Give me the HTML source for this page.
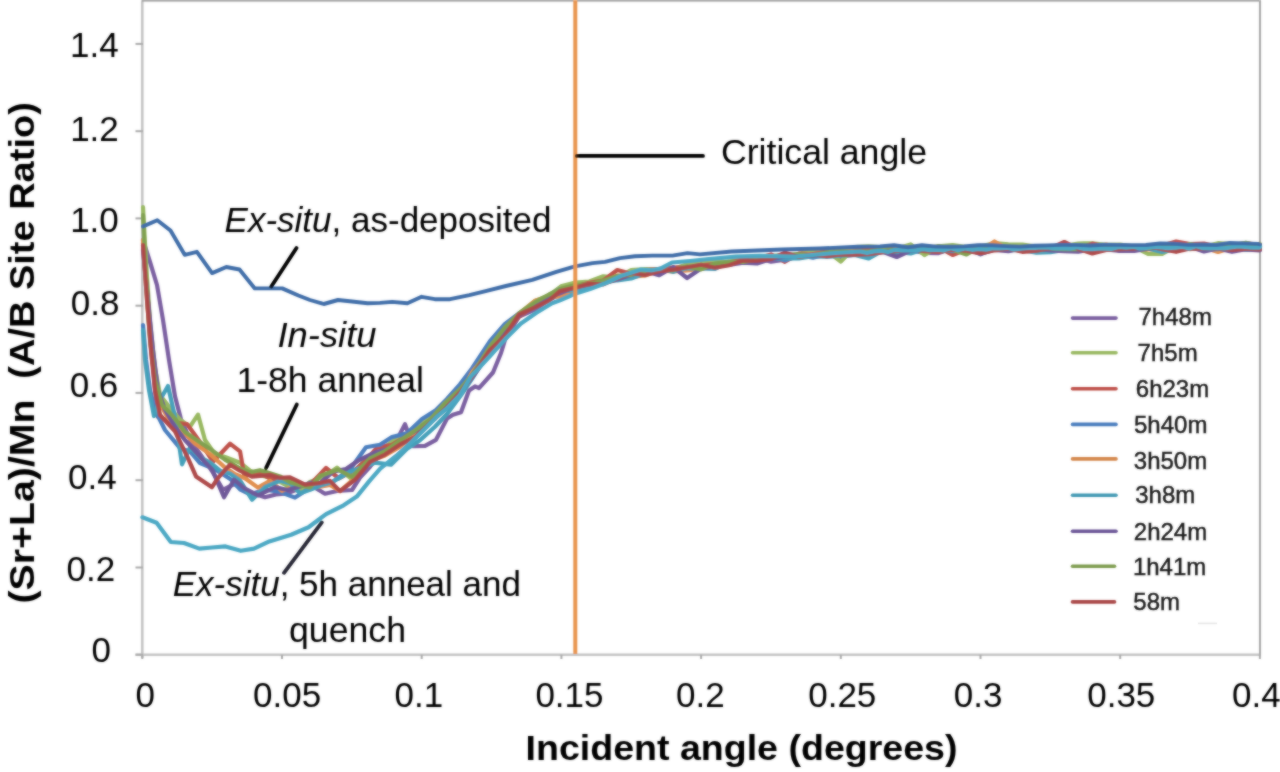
<!DOCTYPE html>
<html><head><meta charset="utf-8"><style>
html,body{margin:0;padding:0;background:#fff;width:1280px;height:772px;overflow:hidden}
svg{display:block}
</style></head><body>
<svg width="1280" height="772" viewBox="0 0 1280 772">
<defs><filter id="bl" x="0" y="0" width="1280" height="772" filterUnits="userSpaceOnUse"><feGaussianBlur in="SourceGraphic" stdDeviation="1" result="b"/><feComposite in="b" in2="SourceGraphic" operator="arithmetic" k1="0" k2="0.6" k3="0.4" k4="0"/></filter></defs>
<rect width="1280" height="772" fill="#fff"/>
<g filter="url(#bl)">
<g stroke="#c4c4c4" stroke-width="2.6" fill="none">
<line x1="142.3" y1="0" x2="142.3" y2="658"/>
<line x1="135.5" y1="654.7" x2="1261" y2="654.7"/>
</g>
<g stroke="#a8a8a8" stroke-width="2" fill="none">
<line x1="135.5" y1="43.9" x2="143" y2="43.9"/><line x1="135.5" y1="131.2" x2="143" y2="131.2"/><line x1="135.5" y1="218.4" x2="143" y2="218.4"/><line x1="135.5" y1="305.7" x2="143" y2="305.7"/><line x1="135.5" y1="392.9" x2="143" y2="392.9"/><line x1="135.5" y1="480.2" x2="143" y2="480.2"/><line x1="135.5" y1="567.5" x2="143" y2="567.5"/><line x1="135.5" y1="654.7" x2="143" y2="654.7"/><line x1="142.3" y1="654.7" x2="142.3" y2="659"/><line x1="282.0" y1="654.7" x2="282.0" y2="659"/><line x1="421.7" y1="654.7" x2="421.7" y2="659"/><line x1="561.4" y1="654.7" x2="561.4" y2="659"/><line x1="701.1" y1="654.7" x2="701.1" y2="659"/><line x1="840.8" y1="654.7" x2="840.8" y2="659"/><line x1="980.5" y1="654.7" x2="980.5" y2="659"/><line x1="1120.2" y1="654.7" x2="1120.2" y2="659"/><line x1="1259.9" y1="654.7" x2="1259.9" y2="659"/>
</g>
<line x1="142" y1="0.8" x2="1261" y2="0.8" stroke="#909090" stroke-width="1.6"/>
<line x1="1260" y1="0" x2="1260" y2="655" stroke="#a6a6a6" stroke-width="2"/>
<g fill="none" stroke-width="4.2" stroke-linejoin="round" stroke-linecap="round">
<polyline points="143.0,240.0 150.0,262.0 157.0,285.0 163.0,320.0 169.0,360.0 175.0,396.3 181.0,419.4 190.0,439.7 200.0,453.9 212.0,471.0 223.0,489.8 234.0,484.1 250.0,492.2 265.0,497.2 276.0,494.5 287.0,493.3 298.0,489.3 309.0,484.2 325.0,493.7 337.0,491.0 352.0,490.0 360.0,477.5 370.0,466.7 380.0,454.2 391.0,451.2 405.0,424.1 413.0,446.2 425.0,445.8 436.0,439.8 447.0,418.6 453.0,414.7 461.0,412.3 469.0,390.5 475.0,386.4 479.0,388.1 493.0,372.5 501.0,353.0 505.0,339.8 519.0,316.5 535.0,309.5 549.0,300.0 560.0,294.3 575.4,290.7 589.3,284.2 603.3,279.6 617.3,279.9 631.2,275.5 645.2,272.4 659.2,268.7 673.2,271.4 687.1,266.5 701.1,267.3 715.1,265.5 729.0,263.5 743.0,261.5 757.0,257.7 771.0,261.7 784.9,259.7 798.9,256.6 812.9,255.4 826.8,255.1 840.8,256.8 854.8,254.6 868.7,252.8 882.7,251.9 896.7,250.8 910.7,250.4 924.6,252.9 938.6,253.1 952.6,248.1 966.5,248.8 980.5,251.0 994.5,249.6 1008.4,249.1 1022.4,246.5 1036.4,246.8 1050.4,248.6 1064.3,250.8 1078.3,248.7 1092.3,248.3 1106.2,246.3 1120.2,250.9 1134.2,247.6 1148.1,247.0 1162.1,244.9 1176.1,248.2 1190.0,246.4 1204.0,248.3 1218.0,247.9 1232.0,247.3 1245.9,246.8 1259.9,247.8" stroke="#7A5FA0"/>
<polyline points="143.0,207.0 146.0,262.0 150.0,322.0 155.0,368.0 160.0,395.0 170.0,408.0 180.0,419.6 190.0,426.7 198.0,414.6 205.0,440.0 215.0,454.1 225.0,456.9 240.0,462.7 250.0,470.6 257.0,474.2 275.0,479.2 290.0,487.2 300.0,490.3 310.0,481.9 325.0,476.1 337.0,467.6 350.0,477.7 365.0,459.6 380.0,450.8 395.0,439.5 407.0,434.4 422.0,422.9 435.0,413.3 447.0,402.1 460.0,387.0 472.0,372.6 490.0,343.5 505.0,328.5 519.0,313.4 535.0,300.9 549.0,295.4 561.0,286.3 575.4,282.5 589.3,281.5 603.3,276.3 617.3,277.5 631.2,270.2 645.2,269.1 659.2,269.4 673.2,269.1 687.1,264.3 701.1,261.7 715.1,261.5 729.0,261.9 743.0,257.5 757.0,256.6 771.0,255.6 784.9,256.5 798.9,253.8 812.9,250.6 826.8,251.0 840.8,261.6 854.8,247.2 868.7,246.3 882.7,247.4 896.7,248.6 910.7,244.4 924.6,255.0 938.6,246.4 952.6,245.0 966.5,247.0 980.5,246.6 994.5,243.0 1008.4,244.4 1022.4,244.7 1036.4,246.7 1050.4,246.9 1064.3,245.7 1078.3,243.5 1092.3,243.3 1106.2,244.8 1120.2,244.5 1134.2,246.9 1148.1,254.0 1162.1,254.0 1176.1,246.0 1190.0,244.6 1204.0,246.6 1218.0,243.2 1232.0,244.0 1245.9,245.7 1259.9,243.9" stroke="#98B860"/>
<polyline points="143.0,243.0 147.0,290.0 151.0,340.0 155.0,390.0 158.0,417.0 172.0,422.3 187.0,424.1 200.0,441.9 213.0,461.7 230.0,443.7 240.0,451.3 244.5,476.5 257.0,471.7 272.0,479.4 290.0,480.6 300.0,484.9 310.0,484.7 326.0,468.0 339.0,478.5 356.0,469.0 365.0,461.4 377.0,447.5 392.0,444.9 407.0,435.9 422.0,428.7 435.0,415.9 447.0,404.5 460.0,392.0 472.0,375.5 490.0,344.1 505.0,330.7 519.0,316.9 535.0,305.6 549.0,299.2 560.0,289.6 575.4,286.5 589.3,282.8 603.3,280.5 617.3,270.0 631.2,273.7 645.2,270.1 659.2,269.0 673.2,267.4 687.1,267.8 701.1,265.3 715.1,264.0 729.0,262.9 743.0,259.3 757.0,258.6 771.0,254.4 784.9,261.8 798.9,253.6 812.9,254.4 826.8,251.3 840.8,251.0 854.8,249.6 868.7,248.2 882.7,248.4 896.7,249.5 910.7,248.5 924.6,246.9 938.6,247.2 952.6,255.0 966.5,249.5 980.5,245.8 994.5,246.4 1008.4,248.1 1022.4,248.4 1036.4,247.8 1050.4,246.9 1064.3,248.3 1078.3,248.8 1092.3,243.6 1106.2,246.7 1120.2,247.9 1134.2,246.4 1148.1,246.6 1162.1,245.4 1176.1,241.5 1190.0,244.1 1204.0,243.5 1218.0,246.9 1232.0,245.2 1245.9,243.4 1259.9,244.8" stroke="#BE5048"/>
<polyline points="143.0,325.0 146.0,360.0 150.0,390.0 155.0,410.0 165.0,430.0 180.0,448.2 190.0,451.5 200.0,463.1 215.0,469.2 231.0,479.5 240.5,489.7 250.0,494.4 265.0,489.6 278.0,491.4 295.0,497.6 309.0,488.5 321.0,486.0 333.0,481.7 350.0,469.4 366.0,447.2 380.0,444.8 392.0,437.1 407.0,433.3 422.0,419.0 435.0,410.9 447.0,399.0 460.0,384.3 472.0,368.4 490.0,341.2 505.0,323.9 519.0,313.3 535.0,305.8 549.0,295.4 560.0,289.1 575.4,289.7 589.3,285.5 603.3,281.5 617.3,278.4 631.2,277.0 645.2,273.9 659.2,271.2 673.2,270.3 687.1,268.2 701.1,267.6 715.1,266.6 729.0,263.2 743.0,261.8 757.0,259.4 771.0,256.6 784.9,260.5 798.9,255.0 812.9,257.6 826.8,254.5 840.8,251.9 854.8,254.9 868.7,252.3 882.7,252.0 896.7,253.7 910.7,250.8 924.6,249.6 938.6,250.3 952.6,248.9 966.5,248.1 980.5,254.3 994.5,248.5 1008.4,250.1 1022.4,249.6 1036.4,248.8 1050.4,248.3 1064.3,246.6 1078.3,249.7 1092.3,249.1 1106.2,248.6 1120.2,248.7 1134.2,247.0 1148.1,249.0 1162.1,247.5 1176.1,247.8 1190.0,248.5 1204.0,246.4 1218.0,246.3 1232.0,248.5 1245.9,248.3 1259.9,247.1" stroke="#4A7EBE"/>
<polyline points="143.0,240.0 147.0,300.0 152.0,360.0 158.0,400.0 168.0,418.0 180.0,429.3 195.0,443.5 210.0,454.1 225.0,467.5 235.0,474.3 245.0,478.2 258.0,487.6 270.0,480.9 282.0,490.8 300.0,484.8 310.0,486.1 320.0,486.7 330.0,485.0 340.0,491.0 352.0,480.5 370.0,461.0 385.0,455.5 400.0,446.6 415.0,434.1 430.0,423.2 445.0,407.3 460.0,394.8 472.0,372.4 490.0,350.3 505.0,329.5 519.0,314.1 535.0,300.8 549.0,296.6 560.0,296.7 575.4,289.2 589.3,283.8 603.3,282.4 617.3,275.5 631.2,276.8 645.2,275.4 659.2,270.4 673.2,271.4 687.1,270.5 701.1,268.7 715.1,265.3 729.0,261.8 743.0,263.0 757.0,260.1 771.0,259.0 784.9,255.4 798.9,255.1 812.9,254.2 826.8,253.6 840.8,250.6 854.8,251.8 868.7,254.9 882.7,251.8 896.7,249.4 910.7,252.6 924.6,248.7 938.6,251.7 952.6,249.0 966.5,249.3 980.5,250.7 994.5,241.5 1008.4,249.6 1022.4,247.7 1036.4,249.0 1050.4,248.0 1064.3,249.5 1078.3,246.7 1092.3,248.9 1106.2,244.6 1120.2,248.3 1134.2,249.3 1148.1,249.5 1162.1,249.7 1176.1,247.6 1190.0,249.2 1204.0,247.5 1218.0,252.0 1232.0,247.8 1245.9,249.7 1259.9,247.3" stroke="#E08D4C"/>
<polyline points="143.0,330.0 145.0,360.0 149.0,390.0 154.0,416.0 160.0,400.0 168.0,386.0 175.0,417.1 182.0,464.3 190.0,447.7 200.0,457.5 210.0,462.4 220.0,470.7 230.0,473.5 240.0,480.4 252.0,499.7 265.0,486.9 280.0,480.7 290.0,483.3 300.0,493.3 310.0,489.7 320.0,485.8 330.0,482.8 340.0,477.6 350.0,471.9 360.0,467.9 375.0,462.7 391.0,464.7 407.0,448.8 420.0,440.2 435.0,426.7 447.0,414.0 460.0,396.6 472.0,378.8 490.0,349.8 505.0,331.9 519.0,313.8 535.0,307.1 549.0,299.6 560.0,291.9 575.4,289.7 589.3,287.3 603.3,282.8 617.3,280.3 631.2,278.5 645.2,273.4 659.2,269.2 673.2,271.8 687.1,268.2 701.1,268.5 715.1,268.8 729.0,262.2 743.0,262.8 757.0,259.5 771.0,258.7 784.9,258.3 798.9,258.3 812.9,256.2 826.8,257.0 840.8,255.6 854.8,255.0 868.7,258.5 882.7,250.6 896.7,252.0 910.7,253.4 924.6,249.0 938.6,250.7 952.6,251.1 966.5,249.8 980.5,249.2 994.5,250.0 1008.4,249.1 1022.4,250.3 1036.4,252.6 1050.4,252.2 1064.3,250.0 1078.3,249.3 1092.3,250.1 1106.2,249.3 1120.2,249.0 1134.2,247.9 1148.1,248.5 1162.1,252.0 1176.1,249.0 1190.0,248.0 1204.0,249.3 1218.0,249.1 1232.0,247.0 1245.9,250.0 1259.9,249.2" stroke="#45A0BA"/>
<polyline points="143.0,250.0 148.0,300.0 153.0,350.0 158.0,390.0 165.0,410.0 175.0,426.7 185.0,440.1 200.0,456.7 212.0,469.2 224.0,497.2 234.0,479.7 245.0,488.6 258.0,495.4 275.0,487.1 287.5,490.0 300.0,486.5 310.0,482.9 320.0,483.1 333.0,471.6 346.0,469.0 358.0,460.7 375.0,452.3 391.0,448.4 407.0,435.4 422.0,427.4 435.0,418.7 447.0,405.3 460.0,392.6 472.0,377.8 490.0,352.9 505.0,330.0 519.0,315.8 535.0,303.9 549.0,297.1 560.0,293.3 575.4,286.5 589.3,284.7 603.3,282.9 617.3,279.4 631.2,274.8 645.2,271.2 659.2,275.2 673.2,267.2 687.1,278.0 701.1,268.6 715.1,266.1 729.0,265.0 743.0,262.7 757.0,263.5 771.0,259.0 784.9,256.6 798.9,255.8 812.9,255.6 826.8,254.8 840.8,252.7 854.8,253.5 868.7,252.8 882.7,251.9 896.7,257.0 910.7,250.6 924.6,250.2 938.6,249.1 952.6,250.3 966.5,248.4 980.5,253.6 994.5,249.8 1008.4,251.1 1022.4,248.5 1036.4,248.3 1050.4,250.4 1064.3,251.1 1078.3,251.6 1092.3,249.2 1106.2,249.5 1120.2,250.9 1134.2,250.8 1148.1,248.7 1162.1,246.9 1176.1,247.2 1190.0,246.7 1204.0,251.5 1218.0,248.5 1232.0,251.8 1245.9,249.3 1259.9,250.3" stroke="#6E5899"/>
<polyline points="143.0,215.0 146.0,280.0 150.0,340.0 155.0,380.0 162.0,405.0 172.0,415.0 185.0,431.9 198.0,440.9 210.0,448.9 225.0,459.6 240.0,468.5 250.0,472.3 260.0,470.2 270.0,473.3 280.0,476.4 290.0,482.2 300.0,485.2 310.0,487.4 320.0,475.9 338.0,469.6 352.0,476.9 370.0,458.4 385.0,451.1 400.0,440.5 415.0,430.4 430.0,419.7 445.0,403.0 460.0,389.1 472.0,374.8 490.0,346.4 505.0,327.3 519.0,313.4 535.0,302.1 549.0,294.5 561.0,288.8 575.4,285.0 589.3,284.1 603.3,280.7 617.3,275.9 631.2,274.8 645.2,270.9 659.2,269.7 673.2,270.3 687.1,266.4 701.1,269.4 715.1,263.5 729.0,261.7 743.0,262.0 757.0,259.4 771.0,256.3 784.9,254.5 798.9,254.3 812.9,255.2 826.8,252.3 840.8,251.4 854.8,251.5 868.7,251.6 882.7,249.2 896.7,250.2 910.7,248.1 924.6,248.8 938.6,246.1 952.6,249.8 966.5,254.5 980.5,246.5 994.5,248.4 1008.4,247.3 1022.4,247.4 1036.4,248.4 1050.4,248.5 1064.3,249.1 1078.3,249.1 1092.3,246.8 1106.2,248.1 1120.2,246.8 1134.2,247.9 1148.1,248.1 1162.1,245.7 1176.1,248.0 1190.0,244.1 1204.0,246.5 1218.0,247.7 1232.0,245.0 1245.9,242.7 1259.9,246.1" stroke="#80A050"/>
<polyline points="143.0,245.0 147.0,300.0 151.0,350.0 155.0,390.0 160.0,415.0 175.0,431.4 188.5,459.4 196.0,476.4 212.0,487.2 218.0,477.9 230.0,464.6 240.0,470.7 252.0,476.6 270.0,474.8 280.0,477.9 290.0,477.3 305.0,484.6 320.0,483.0 330.0,480.9 340.0,491.1 355.0,479.8 370.0,461.9 385.0,454.6 400.0,444.5 415.0,437.2 430.0,422.9 445.0,409.1 460.0,392.5 472.0,376.4 490.0,350.0 505.0,335.8 519.0,314.3 535.0,307.3 549.0,300.6 560.0,291.1 575.4,287.6 589.3,283.9 603.3,284.3 617.3,278.3 631.2,273.0 645.2,275.1 659.2,271.2 673.2,269.7 687.1,267.3 701.1,264.7 715.1,267.8 729.0,265.3 743.0,260.5 757.0,260.6 771.0,259.0 784.9,252.7 798.9,257.0 812.9,254.4 826.8,256.2 840.8,254.4 854.8,254.7 868.7,254.2 882.7,252.2 896.7,251.1 910.7,248.6 924.6,251.2 938.6,251.9 952.6,249.6 966.5,250.6 980.5,253.5 994.5,250.3 1008.4,248.6 1022.4,251.8 1036.4,250.7 1050.4,248.1 1064.3,242.0 1078.3,248.9 1092.3,253.5 1106.2,249.9 1120.2,249.1 1134.2,248.7 1148.1,245.9 1162.1,249.1 1176.1,251.8 1190.0,248.4 1204.0,248.7 1218.0,248.2 1232.0,249.9 1245.9,248.6 1259.9,249.4" stroke="#AD4848"/>
<polyline points="142.4,517.3 156.6,522.8 170.8,542.0 184.0,543.0 199.3,548.6 212.0,547.5 225.5,546.4 240.8,550.8 254.0,548.6 269.3,541.4 291.1,534.8 308.6,527.2 326.1,514.1 343.6,505.3 356.8,496.6 369.3,481.1 380.2,468.6 395.8,456.2 411.3,442.2 426.9,426.7 437.8,415.8 447.1,408.0 459.5,395.6 471.1,376.4 489.8,356.2 505.3,339.1 520.9,323.5 536.4,312.7 552.0,303.3 560.0,300.2 575.0,293.8 590.0,289.0 606.0,283.0 621.0,276.0 641.0,269.5 652.0,270.3 660.0,268.8 672.0,262.5 690.0,261.0 709.0,259.0 736.0,256.6 760.0,255.8 795.0,256.6 812.0,255.0 836.0,253.0 860.0,251.5 867.0,252.9 874.0,251.4 881.0,250.8 888.0,251.9 895.0,249.8 902.0,250.4 909.0,250.4 916.0,250.4 923.0,249.1 930.0,250.1 937.0,249.6 944.0,250.3 951.0,248.2 958.0,250.3 965.0,248.4 972.0,249.8 979.0,249.0 986.0,249.7 993.0,248.1 1000.0,248.4 1007.0,247.8 1014.0,249.4 1021.0,248.7 1028.0,247.9 1035.0,247.8 1042.0,247.5 1049.0,247.7 1056.0,248.5 1063.0,248.1 1070.0,248.7 1077.0,247.2 1084.0,248.9 1091.0,249.2 1098.0,248.6 1105.0,248.6 1112.0,248.8 1119.0,246.9 1126.0,247.7 1133.0,246.8 1140.0,248.4 1147.0,247.8 1154.0,246.7 1161.0,247.5 1168.0,248.2 1175.0,247.7 1182.0,246.6 1189.0,248.5 1196.0,246.3 1203.0,248.2 1210.0,248.5 1217.0,247.9 1224.0,248.3 1231.0,247.3 1238.0,246.5 1245.0,247.0 1252.0,247.6 1259.0,247.7 1260.0,246.7" stroke="#4BA8C4"/>
<polyline points="143.0,226.4 157.3,220.3 170.5,230.5 184.7,254.8 196.9,251.8 212.1,273.1 226.3,267.0 239.5,269.5 254.8,288.4 268.5,288.4 282.2,288.4 298.4,295.5 310.0,300.0 323.8,304.0 338.0,300.0 352.0,301.5 367.5,303.2 380.0,302.9 392.2,301.9 407.4,303.3 421.6,296.8 434.8,299.2 450.1,299.2 469.4,295.2 485.6,291.1 505.9,286.0 532.3,279.9 556.3,271.9 575.0,266.3 592.5,263.1 605.0,261.9 620.0,258.1 635.0,256.3 652.5,255.6 672.5,255.6 687.5,253.1 700.0,254.4 731.7,251.5 782.5,249.5 820.0,248.5 857.7,246.8 880.0,246.4 894.0,245.3 908.0,247.3 922.0,245.3 936.0,246.6 950.0,246.8 964.0,246.4 978.0,245.3 992.0,245.3 1006.0,246.1 1020.0,246.6 1034.0,245.8 1048.0,245.4 1062.0,244.9 1076.0,244.9 1090.0,245.5 1104.0,244.8 1118.0,244.9 1132.0,245.1 1146.0,245.0 1160.0,243.5 1174.0,243.8 1188.0,244.9 1202.0,244.5 1216.0,245.0 1230.0,243.0 1244.0,243.4 1258.0,243.9 1260.0,244.5" stroke="#3F6DA8" stroke-width="3.9"/>
</g>
<line x1="575.3" y1="0" x2="575.3" y2="654" stroke="#E8944E" stroke-width="4"/>
<g stroke="#000" stroke-width="3.8" stroke-linecap="round">
<line x1="577" y1="155.9" x2="703" y2="155.9"/>
<line x1="296.5" y1="248" x2="271.3" y2="286.5"/>
<line x1="296.8" y1="404.5" x2="266" y2="468.2"/>
<line x1="321.8" y1="522.4" x2="284" y2="572.8" stroke="#262634"/>
</g>
<g font-family="'Liberation Sans', sans-serif" font-size="35" fill="#000">
<text x="118.6" y="56.7" text-anchor="end">1.4</text>
<text x="118.8" y="140.5" text-anchor="end">1.2</text>
<text x="118.8" y="232.2" text-anchor="end">1.0</text>
<text x="119.4" y="314.5" text-anchor="end">0.8</text>
<text x="118.3" y="397.0" text-anchor="end">0.6</text>
<text x="116.6" y="488.8" text-anchor="end">0.4</text>
<text x="115.2" y="581.1" text-anchor="end">0.2</text>
<text x="110.9" y="662.1" text-anchor="end">0</text>
<text x="135.6" y="707.2">0</text>
<text x="253.1" y="707.2">0.05</text>
<text x="394.6" y="707.2">0.1</text>
<text x="535.4" y="707.2">0.15</text>
<text x="676.0" y="707.2">0.2</text>
<text x="808.2" y="707.2">0.25</text>
<text x="953.7" y="707.2">0.3</text>
<text x="1087.2" y="707.2">0.35</text>
<text x="1232.1" y="707.2">0.4</text>
<text x="721" y="164.2" textLength="206" lengthAdjust="spacingAndGlyphs">Critical angle</text>
<text x="224.6" y="232.3"><tspan font-style="italic">Ex-situ</tspan>, as-deposited</text>
<text x="277.5" y="346.9" font-style="italic" textLength="99" lengthAdjust="spacingAndGlyphs">In-situ</text>
<text x="236.5" y="391.5" textLength="187.5" lengthAdjust="spacingAndGlyphs">1-8h anneal</text>
<text x="172.7" y="595.5"><tspan font-style="italic">Ex-situ</tspan>, 5h anneal and</text>
<text x="289" y="641.6" textLength="117" lengthAdjust="spacingAndGlyphs">quench</text>
<text x="525.5" y="760.3" font-weight="bold" textLength="432" lengthAdjust="spacingAndGlyphs">Incident angle (degrees)</text>
<g transform="translate(34,0) rotate(-90)" font-weight="bold">
<text x="-603.5" y="0" textLength="204" lengthAdjust="spacingAndGlyphs">(Sr+La)/Mn</text>
<text x="-378.7" y="0" textLength="276.5" lengthAdjust="spacingAndGlyphs">(A/B Site Ratio)</text>
</g>
</g>
<g stroke-width="3.6" stroke-linecap="round" font-family="'Liberation Sans', sans-serif" font-size="24" fill="#1a1a1a">
<line x1="1072.5" y1="318.1" x2="1116" y2="318.1" stroke="#7A5FA0"/>
<text x="1138.5" y="324.5" stroke="#1a1a1a" stroke-width="0.45">7h48m</text>
<line x1="1072.5" y1="352.7" x2="1116" y2="352.7" stroke="#98B860"/>
<text x="1137.6" y="360.8" stroke="#1a1a1a" stroke-width="0.45">7h5m</text>
<line x1="1072.5" y1="388.7" x2="1116" y2="388.7" stroke="#BE5048"/>
<text x="1135.8" y="397.1" stroke="#1a1a1a" stroke-width="0.45">6h23m</text>
<line x1="1072.5" y1="424.4" x2="1116" y2="424.4" stroke="#4A7EBE"/>
<text x="1134.0" y="432.5" stroke="#1a1a1a" stroke-width="0.45">5h40m</text>
<line x1="1072.5" y1="458.9" x2="1116" y2="458.9" stroke="#D4874C"/>
<text x="1133.8" y="469.1" stroke="#1a1a1a" stroke-width="0.45">3h50m</text>
<line x1="1072.5" y1="495.2" x2="1116" y2="495.2" stroke="#4399B3"/>
<text x="1135.2" y="503.4" stroke="#1a1a1a" stroke-width="0.45">3h8m</text>
<line x1="1072.5" y1="531.2" x2="1116" y2="531.2" stroke="#6A5596"/>
<text x="1133.8" y="539.8" stroke="#1a1a1a" stroke-width="0.45">2h24m</text>
<line x1="1072.5" y1="566.2" x2="1114.5" y2="566.2" stroke="#7E9C4E"/>
<text x="1132.9" y="574.7" stroke="#1a1a1a" stroke-width="0.45">1h41m</text>
<line x1="1072.5" y1="601.9" x2="1114.5" y2="601.9" stroke="#A94646"/>
<text x="1133.3" y="609.7" stroke="#1a1a1a" stroke-width="0.45">58m</text>
</g>
<line x1="1198" y1="623.4" x2="1217" y2="623.4" stroke="#e4e4e4" stroke-width="1.5"/>
</g>
</svg>
</body></html>
